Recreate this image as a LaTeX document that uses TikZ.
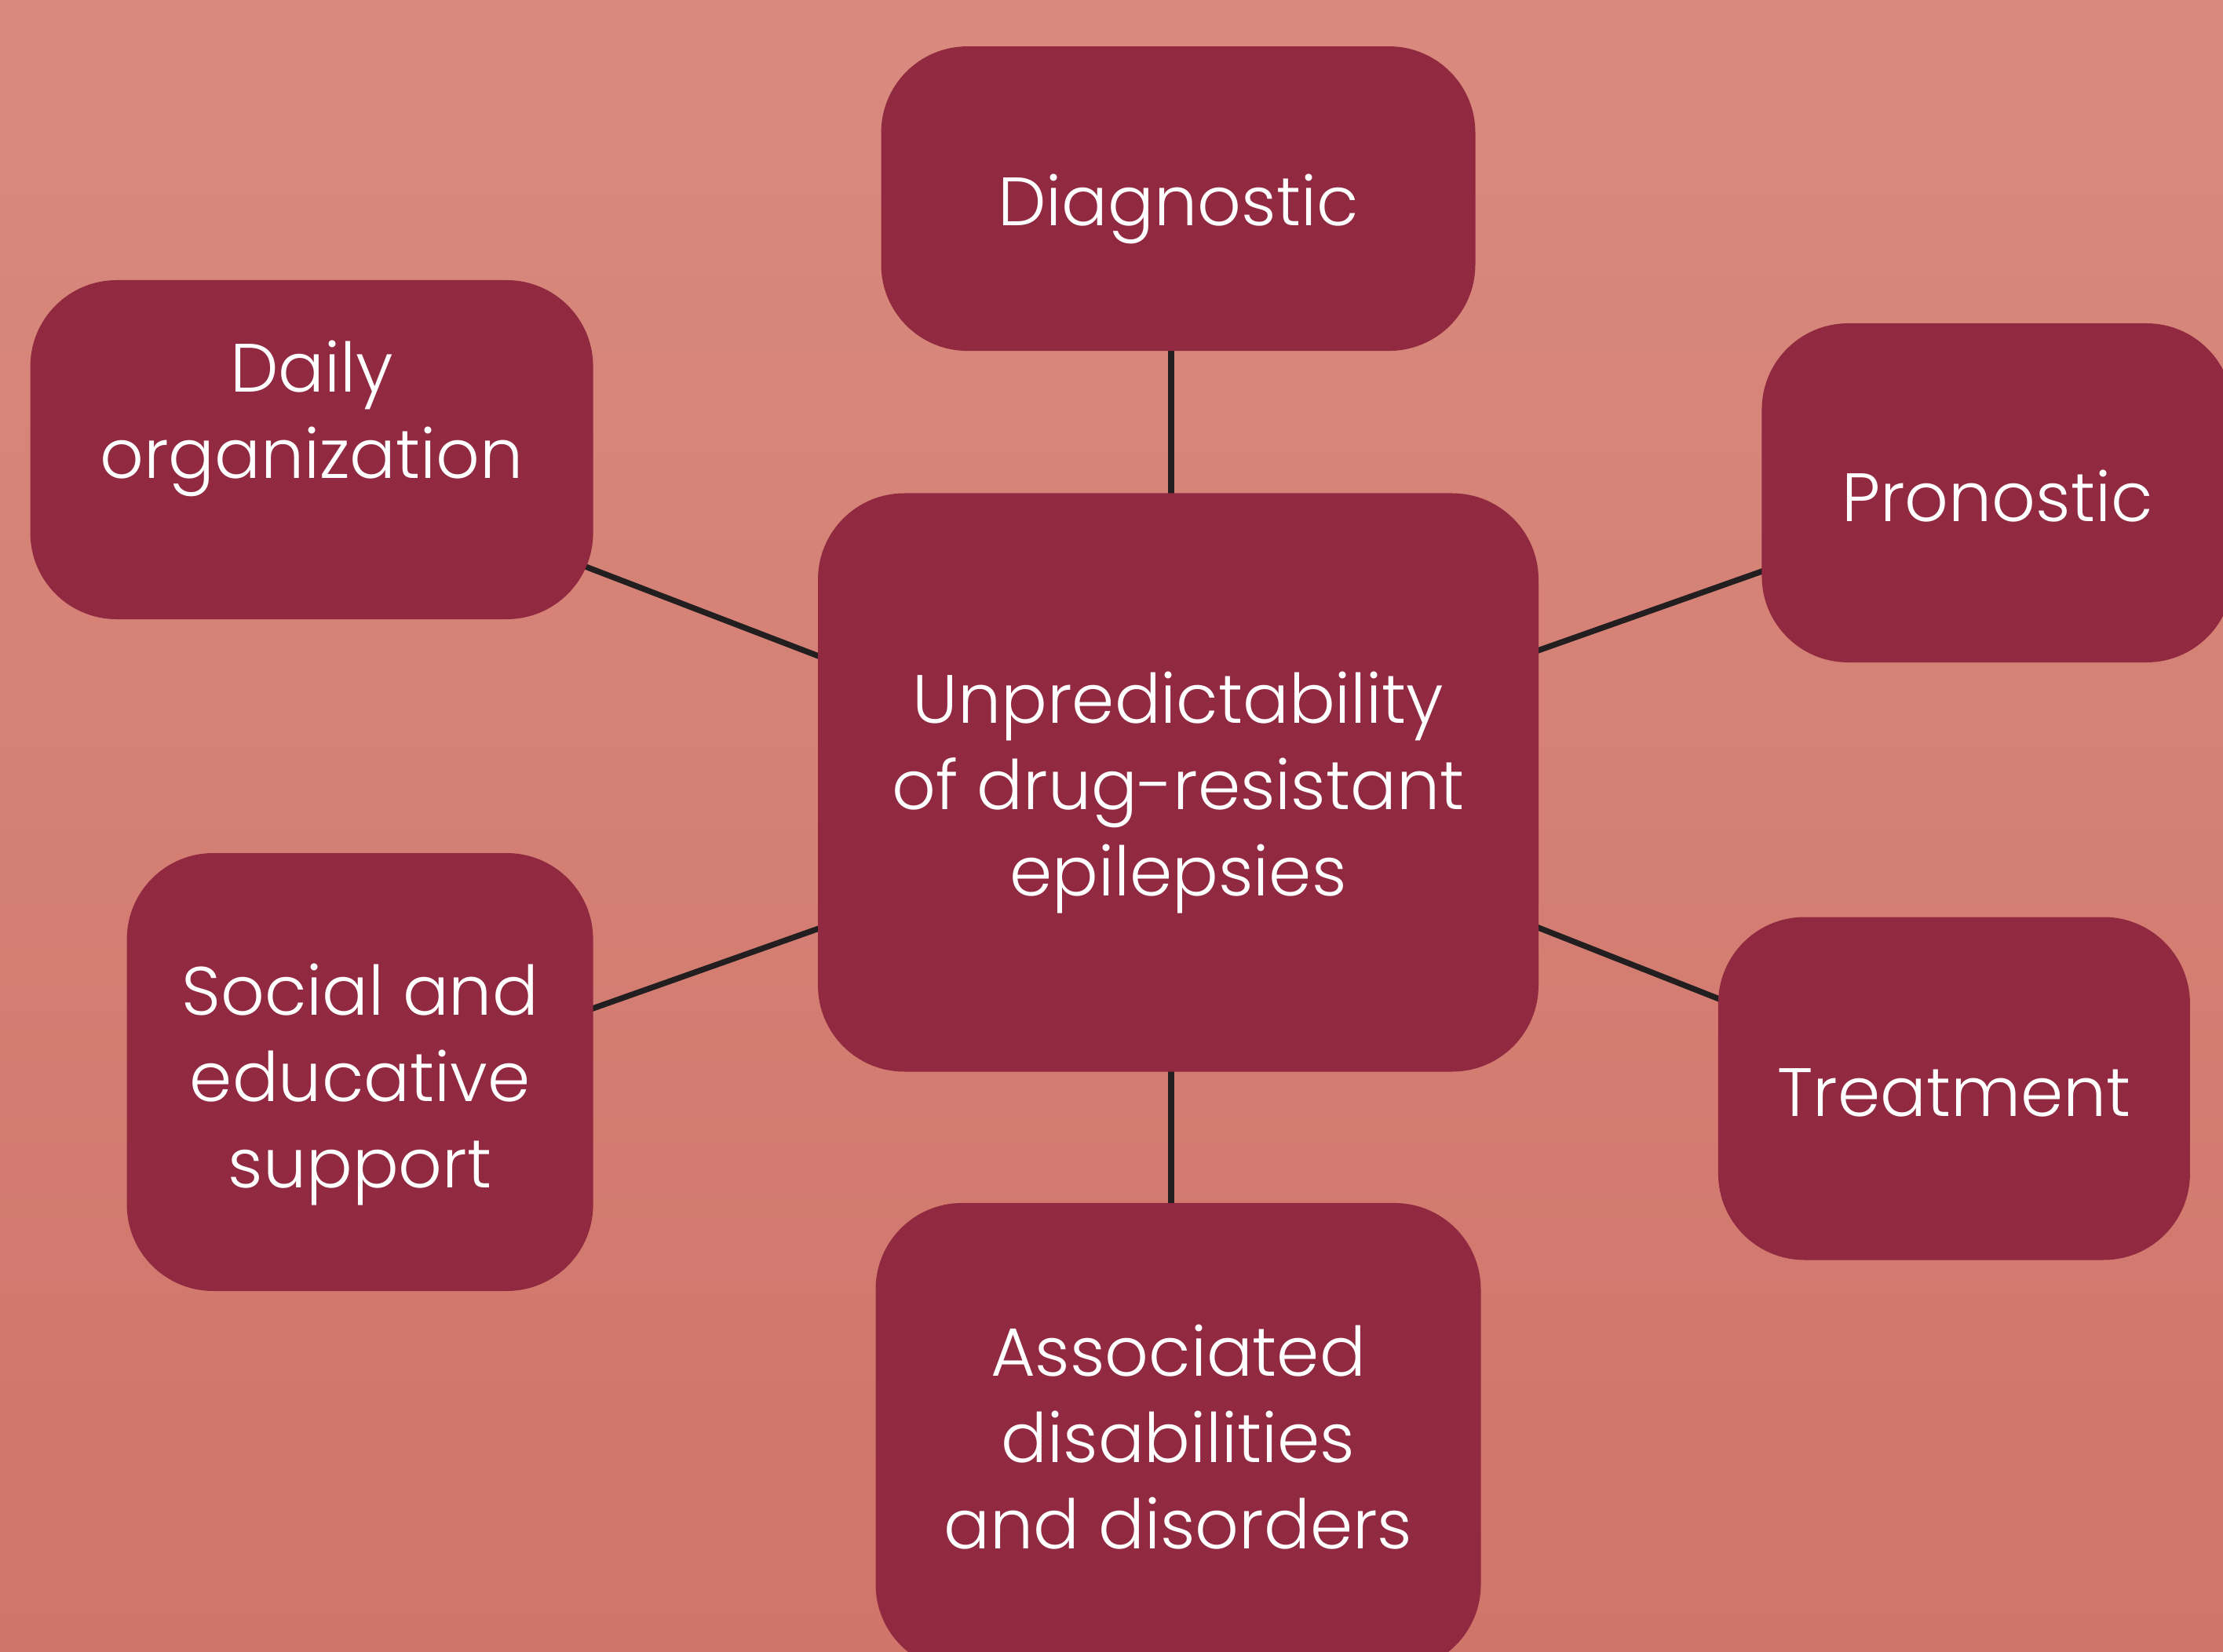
\documentclass[tikz,border=0pt]{standalone}
\usepackage{fontspec}
\setmainfont{Poppins Light}
\usetikzlibrary{positioning,backgrounds}
\definecolor{bgtop}{RGB}{217,138,126}
\definecolor{bgbot}{RGB}{208,117,106}
\definecolor{boxred}{RGB}{145,41,65}
\definecolor{linkgrey}{RGB}{35,31,32}

\begin{document}
\begin{tikzpicture}
  \tikzstyle{topictext}=[text=white, align=center, font=\fontsize{24.8}{31.3}\selectfont]
  \tikzstyle{topic}=[rectangle, rounded corners=1.1cm, fill=boxred]
  \tikzstyle{link}=[draw=linkgrey, line width=2.1pt]
  \useasboundingbox (0,0) rectangle (28.32,-21.05);
  \begin{pgfonlayer}{background}
    \shade[top color=bgtop, bottom color=bgbot] (0,0) rectangle (28.32,-21.05);
  \end{pgfonlayer}
  \clip (0,0) rectangle (28.32,-21.05);
    \node[topic, minimum width=9.18cm, minimum height=7.37cm] (hub) at (15.01,-9.97) {};
    \node[topic, minimum width=7.57cm, minimum height=3.88cm] (diag) [above=1.8cm of hub] {};
    \node[topic, minimum width=7.71cm, minimum height=5.96cm] (assoc) [below=1.66cm of hub] {};
    \node[topic, minimum width=7.17cm, minimum height=4.32cm] (daily) [left=2.85cm of hub, yshift=4.24cm] {};
    \node[topic, minimum width=6.0cm, minimum height=4.32cm] (prono) [right=2.83cm of hub, yshift=3.69cm] {};
    \node[topic, minimum width=5.94cm, minimum height=5.58cm] (social) [left=2.85cm of hub, yshift=-3.69cm] {};
    \node[topic, minimum width=6.01cm, minimum height=4.37cm] (treat) [right=2.275cm of hub, yshift=-3.9cm] {};
    % texts
    \node[topictext] (hubtext) at ([yshift=-0.13cm]hub.center) {Unpredictability\\of drug-resistant\\epilepsies};
    \node[topictext] (diagtext) at ([yshift=-0.13cm]diag.center) {Diagnostic};
    \node[topictext] (assoctext) at (assoc.center) {Associated\\disabilities\\and disorders};
    \node[topictext] (dailytext) at ([yshift=0.40cm]daily.center) {Daily\\organization};
    \node[topictext] (pronotext) at ([yshift=-0.04cm]prono.center) {Pronostic};
    \node[topictext] (socialtext) at ([yshift=-0.16cm]social.center) {Social and\\educative\\support};
    \node[topictext] (treattext) at ([yshift=-0.05cm]treat.center) {Treatment};
  \begin{pgfonlayer}{background}
    \path[link] ([yshift=-0.15cm]hub.center) -- ([yshift=-0.15cm]daily.center)
                ([yshift=0.06cm]hub.center) -- ([yshift=0.06cm]prono.center)
                ([yshift=-0.24cm]hub.center) -- ([yshift=-0.24cm]social.center)
                ([yshift=-0.04cm]hub.center) -- ([yshift=-0.04cm]treat.center);
    \draw[link] ([xshift=-0.09cm]hub.center) -- ([xshift=-0.09cm]hub.center |- diag.center);
    \draw[link] ([xshift=-0.09cm]hub.center) -- ([xshift=-0.09cm]hub.center |- assoc.center);
  \end{pgfonlayer}
\end{tikzpicture}
\end{document}
